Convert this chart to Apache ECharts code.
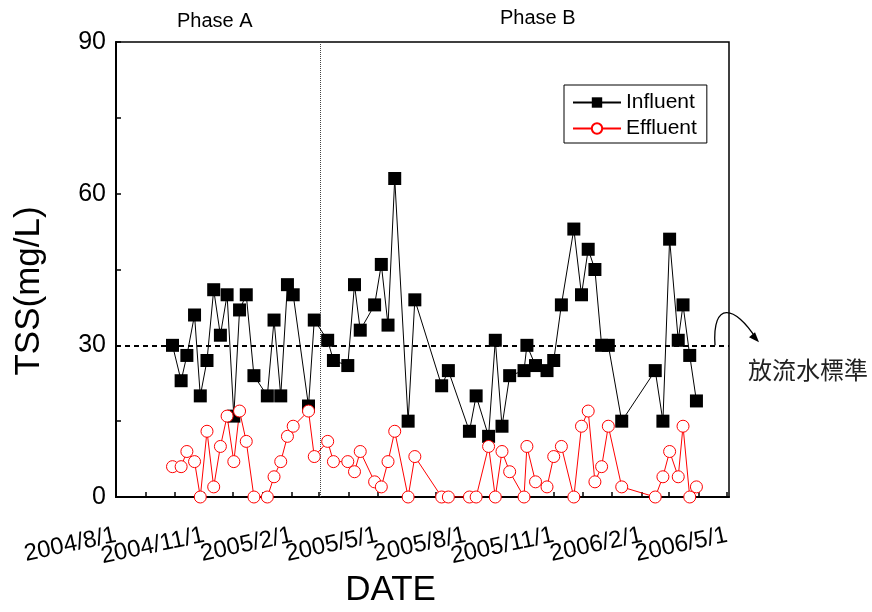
<!DOCTYPE html>
<html>
<head>
<meta charset="utf-8">
<script src="https://cdn.jsdelivr.net/npm/echarts@6/dist/echarts.min.js"></script>
<style>
  html, body { margin: 0; padding: 0; background: #fff; }
  #chart { width: 872px; height: 612px; }
</style>
</head>
<body>
<div id="chart"></div>
<script>
// sampling dates (yyyy/m/d)
const sampleDates = [
  '2004/9/29', '2004/10/8', '2004/10/14', '2004/10/22', '2004/10/28', '2004/11/4', '2004/11/11',
  '2004/11/18', '2004/11/25', '2004/12/2', '2004/12/8', '2004/12/15', '2004/12/23', '2005/1/6',
  '2005/1/13', '2005/1/20', '2005/1/27', '2005/2/2', '2005/2/18', '2005/2/24', '2005/3/10',
  '2005/3/16', '2005/3/31', '2005/4/7', '2005/4/13', '2005/4/28', '2005/5/5', '2005/5/12',
  '2005/5/19', '2005/6/2', '2005/6/9', '2005/7/7', '2005/7/14', '2005/8/5', '2005/8/12',
  '2005/8/25', '2005/9/1', '2005/9/8', '2005/9/16', '2005/10/1', '2005/10/4', '2005/10/13',
  '2005/10/25', '2005/11/1', '2005/11/9', '2005/11/22', '2005/11/30', '2005/12/7', '2005/12/14',
  '2005/12/21', '2005/12/28', '2006/1/11', '2006/2/15', '2006/2/23', '2006/3/2', '2006/3/11',
  '2006/3/16', '2006/3/23', '2006/3/30'
]
const influent = [
  30, 23, 28, 36, 20, 27, 41, 32, 40, 16, 37, 40, 24, 20, 35, 20, 42, 40, 18, 35,
  31, 27, 26, 42, 33, 38, 46, 34, 63, 15, 39, 22, 25, 13, 20, 12, 31, 14, 24, 25,
  30, 26, 25, 27, 38, 53, 40, 49, 45, 30, 30, 15, 25, 15, 51, 31, 38, 28, 19
]
const effluent = [
  6, 6, 9, 7, 0, 13, 2, 10, 16, 7, 17, 11, 0, 0, 4, 7, 12, 14, 17, 8,
  11, 7, 7, 5, 9, 3, 2, 7, 13, 0, 8, 0, 0, 0, 0, 10, 0, 9, 5, 0,
  10, 3, 2, 8, 10, 0, 14, 17, 3, 6, 14, 2, 0, 4, 9, 4, 14, 0, 2
]
const labelDates = ['2004/8/1', '2004/11/1', '2005/2/1', '2005/5/1', '2005/8/1', '2005/11/1', '2006/2/1', '2006/5/1']
const tickDates = [
  '2004/8/1', '2004/9/1', '2004/10/1', '2004/11/1', '2004/12/1', '2005/1/1', '2005/2/1', '2005/3/1',
  '2005/4/1', '2005/5/1', '2005/6/1', '2005/7/1', '2005/8/1', '2005/9/1', '2005/10/1', '2005/11/1',
  '2005/12/1', '2006/1/1', '2006/2/1', '2006/3/1', '2006/4/1', '2006/5/1'
]
const standardTSS = 30
const phaseSplit = '2005/3/2'
const xMin = '2004/8/1'
const xMax = '2006/5/3'

function ts(s) {
  const [y, m, d] = s.split('/').map(Number)
  return new Date(y, m - 1, d).getTime()
}
function fmt(v) {
  const d = new Date(v)
  return d.getFullYear() + '/' + (d.getMonth() + 1) + '/' + d.getDate()
}

const font = '"Liberation Sans", Arial, sans-serif'
const dateLabel = {
  formatter: (v) => fmt(v),
  rotate: 12,
  margin: 38,
  fontFamily: font,
  fontSize: 24,
  color: '#000',
  hideOverlap: false,
}
// the rotated labels touch each other, so every other one goes on a twin axis
// (otherwise echarts drops the end labels as overlapping)
const evenLabels = labelDates.filter((d, i) => i % 2 === 0).map(ts)
const oddLabels = labelDates.filter((d, i) => i % 2 === 1).map(ts)

const chart = echarts.init(document.getElementById('chart'))

chart.setOption({
  animation: false,
  backgroundColor: '#fff',
  grid: {
    left: 116, right: 143, top: 42, bottom: 115,
    outerBoundsMode: 'none',
    show: true, borderColor: '#000', borderWidth: 1.5,
  },
  legend: {
    left: 564,
    top: 85,
    orient: 'vertical',
    borderColor: '#000',
    borderWidth: 1,
    padding: [7, 10, 4, 8],
    itemGap: 5,
    itemWidth: 48,
    itemHeight: 13,
    textStyle: { fontFamily: font, fontSize: 21, color: '#000', lineHeight: 21 },
    data: ['Influent', 'Effluent'],
  },
  xAxis: [
    {
      type: 'value',
      position: 'bottom',
      min: ts(xMin),
      max: ts(xMax),
      name: 'DATE',
      nameLocation: 'middle',
      nameGap: 76,
      nameTextStyle: { fontFamily: font, fontSize: 35, color: '#000', padding: [0, 64, 0, 0] },
      axisLine: { lineStyle: { color: '#000', width: 2 } },
      axisTick: {
        inside: true,
        length: 5,
        lineStyle: { color: '#000', width: 1.5 },
        customValues: tickDates.map(ts),
      },
      axisLabel: { ...dateLabel, customValues: evenLabels },
      splitLine: { show: false },
    },
    {
      type: 'value',
      position: 'bottom',
      offset: 0,
      min: ts(xMin),
      max: ts(xMax),
      axisLine: { show: false },
      axisTick: { show: false },
      axisLabel: { ...dateLabel, customValues: oddLabels },
      splitLine: { show: false },
    },
  ],
  yAxis: {
    type: 'value',
    min: 0,
    max: 90,
    interval: 30,
    name: 'TSS(mg/L)',
    nameLocation: 'middle',
    nameGap: 69,
    nameTextStyle: { fontFamily: font, fontSize: 35, color: '#000', padding: [0, 43, 0, 0] },
    axisLine: { show: true, lineStyle: { color: '#000', width: 2 } },
    axisTick: { show: true, inside: true, length: 5, lineStyle: { color: '#000', width: 1.5 } },
    minorTick: { show: true, splitNumber: 2, length: 5, lineStyle: { color: '#000', width: 1.5 } },
    axisLabel: { fontFamily: font, fontSize: 25, color: '#000', margin: 10 },
    splitLine: { show: false },
  },
  series: [
    {
      name: 'Influent',
      type: 'line',
      data: sampleDates.map((d, i) => [ts(d), influent[i]]),
      symbol: 'rect',
      symbolSize: 13,
      itemStyle: { color: '#000' },
      lineStyle: { color: '#000', width: 1 },
      markLine: {
        silent: true,
        symbol: 'none',
        label: { show: false },
        data: [
          { yAxis: standardTSS, lineStyle: { color: '#000', width: 2, type: [5, 4] } },
          { xAxis: ts(phaseSplit), lineStyle: { color: '#444', width: 1, type: [1, 1] } },
        ],
      },
    },
    {
      name: 'Effluent',
      type: 'line',
      data: sampleDates.map((d, i) => [ts(d), effluent[i]]),
      symbol: 'circle',
      symbolSize: 12,
      itemStyle: { color: '#fff', borderColor: '#ff0000', borderWidth: 1 },
      lineStyle: { color: '#ff0000', width: 1 },
    },
  ],
})

// annotation: phase names and the discharge standard note with its hook arrow
const yStd = chart.convertToPixel({ yAxisIndex: 0 }, standardTSS)
const sx = 715
const ex = 756, ey = yStd - 7
chart.setOption({
  graphic: [
    { type: 'text', left: 177, top: 11, style: { text: 'Phase A', font: '20px ' + font, fill: '#000' } },
    { type: 'text', left: 500, top: 8, style: { text: 'Phase B', font: '20px ' + font, fill: '#000' } },
    {
      type: 'text', left: 748, top: 358,
      style: { text: '放流水標準', font: '24px "Noto Sans CJK TC", sans-serif', fill: '#222' },
    },
    {
      type: 'bezierCurve',
      shape: { x1: sx, y1: yStd, cpx1: sx - 3, cpy1: yStd - 45, cpx2: sx + 20, cpy2: yStd - 40, x2: ex, y2: ey },
      style: { stroke: '#000', lineWidth: 1.3, fill: null },
    },
    {
      type: 'polygon',
      shape: { points: [[ex + 3, ey + 4], [ex - 7, ey - 1], [ex - 1, ey - 6]] },
      style: { fill: '#000' },
    },
  ],
})
</script>
</body>
</html>
